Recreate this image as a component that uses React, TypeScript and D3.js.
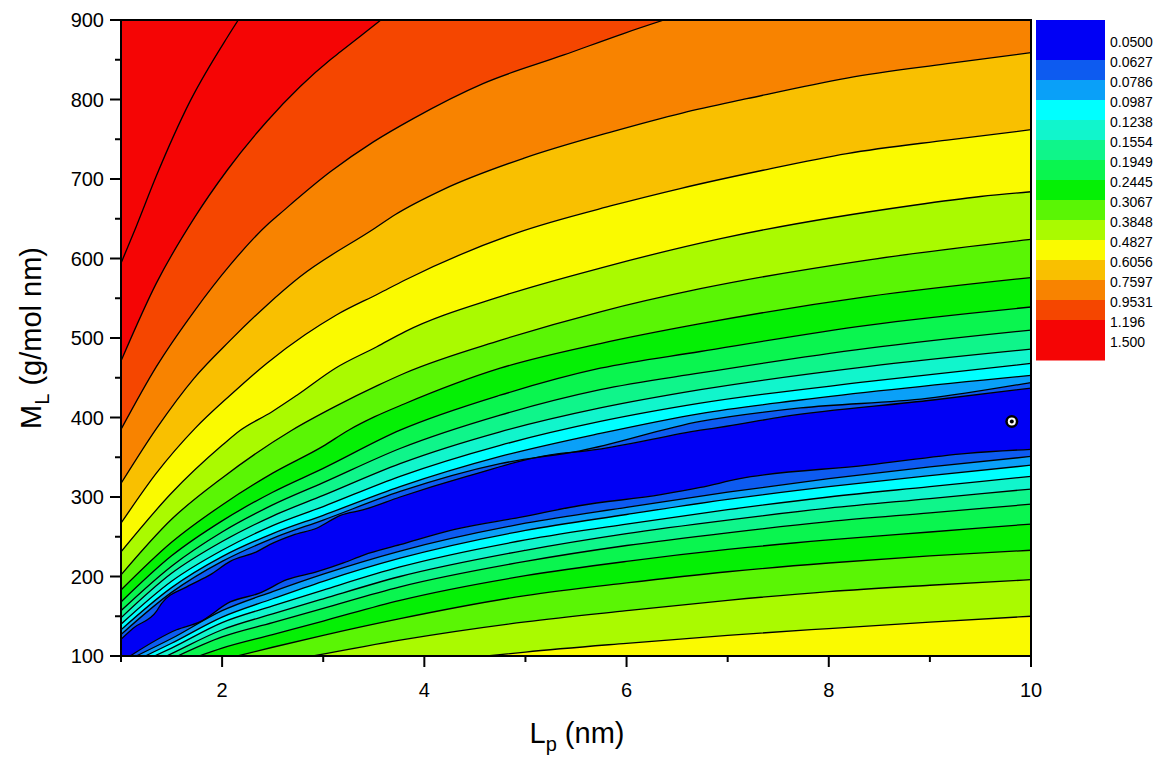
import React from 'react';
import * as d3 from 'd3';

// ---------- data ----------
const LEVELS = ['0.0500', '0.0627', '0.0786', '0.0987', '0.1238', '0.1554', '0.1949', '0.2445',
  '0.3067', '0.3848', '0.4827', '0.6056', '0.7597', '0.9531', '1.196', '1.500'];
// band j lies between LEVELS[j-1] and LEVELS[j]; band 0 below the first level, band 16 above the last
const BAND_COLORS = ['#0000F5', '#0000F5', '#0D5BF0', '#0AA0F8', '#00FFFF', '#11F5CC', '#0FF58A',
  '#0AF54F', '#05F005', '#5AF505', '#AAFA00', '#FAFA00', '#F9C000', '#F88300', '#F54600', '#F50505', '#F50505'];

const X_TICKS = [1, 2, 3, 4, 5, 6, 7, 8, 9, 10];
const X_LABELS = [2, 4, 6, 8, 10];
const Y_TICKS = [100, 150, 200, 250, 300, 350, 400, 450, 500, 550, 600, 650, 700, 750, 800, 850, 900];
const Y_LABELS = [100, 200, 300, 400, 500, 600, 700, 800, 900];

// contour lines [Lp, ML] above the valley (value falls going down)
const C_1500: [number, number][] = [[1, 594], [1.15, 640], [1.35, 704], [1.68, 797], [2.05, 878], [2.16, 900]];
const C_1196: [number, number][] = [[1, 471], [1.35, 569], [1.73, 652], [2.05, 711], [2.44, 772], [2.77, 816], [3.07, 850], [3.17, 860], [3.57, 900]];
const C_09531: [number, number][] = [[1, 385], [1.35, 464], [1.72, 533], [2.08, 592], [2.46, 644], [2.56, 655], [3.07, 709], [3.5, 747], [3.89, 776], [4.58, 820], [5.38, 856], [5.97, 883], [6.37, 900]];
const C_07597: [number, number][] = [[1, 317], [1.35, 386], [1.72, 449], [2.08, 497], [2.44, 541], [2.77, 577], [3.51, 638], [3.71, 655], [4.19, 687], [4.98, 726], [5.87, 760], [6.55, 783], [7.19, 801], [8.18, 827], [9.17, 845], [10, 859]];
const C_06056: [number, number][] = [[1, 267], [1.35, 330], [1.73, 386], [2.08, 428], [2.44, 468], [2.82, 504], [3.13, 529], [3.55, 556], [3.81, 573], [4.91, 632], [5.87, 667], [6.53, 688], [7.35, 711], [8.18, 732], [9.17, 749], [10, 762]];
const C_04827: [number, number][] = [[1, 231], [1.5, 305], [2, 365], [2.18, 384], [2.49, 407], [2.74, 428], [3.12, 462], [3.53, 489], [3.81, 508], [4.75, 552], [5.74, 588], [6.93, 625], [8.84, 667], [9.5, 678], [10, 684]];
const C_03848: [number, number][] = [[1, 202], [1.5, 272], [2, 324], [2.69, 384], [3.12, 414], [3.55, 441], [3.81, 456], [4.75, 497], [5.74, 533], [6.73, 562], [8.38, 598], [10, 624]];
const C_03067: [number, number][] = [[1, 183], [1.5, 243], [2, 290], [2.5, 330], [3, 364], [3.25, 384], [3.51, 401], [3.8, 417], [4.75, 462], [5.74, 493], [6.73, 518], [8.38, 552], [10, 576]];
const C_02445: [number, number][] = [[1, 168], [1.5, 226], [2, 270], [2.5, 306], [3, 336], [3.76, 384], [4.75, 428], [5.74, 462], [6.73, 483], [8.38, 516], [10, 539]];
const C_01949: [number, number][] = [[1, 157], [1.5, 213], [2, 256], [2.5, 290], [3, 318], [3.76, 361], [4.75, 403], [5.74, 435], [6.73, 456], [8.38, 487], [10, 510]];
const C_01554: [number, number][] = [[1, 148], [1.5, 204], [2, 244], [2.5, 276], [3, 302], [3.76, 342], [4.75, 382], [5.74, 412], [6.73, 435], [8.38, 464], [10, 486]];
const C_01238: [number, number][] = [[1, 140], [1.5, 194], [2, 233], [2.5, 264], [3, 288], [3.76, 326], [4.75, 365], [5.74, 395], [6.73, 418], [8.38, 445], [10, 468]];
const C_00987: [number, number][] = [[1, 133], [1.5, 186], [2, 225], [2.5, 254], [3, 277], [3.76, 313], [4.75, 351], [5.74, 380], [6.73, 405], [7.72, 422], [10, 453]];
const C_00786: [number, number][] = [[1, 127], [1.5, 180], [2, 219], [2.5, 248], [3, 271], [3.76, 307], [4.75, 342], [5.54, 358], [6.73, 395], [7.72, 412], [8.97, 424], [10, 444]];
const C_00627: [number, number][] = [[1, 121], [1.12, 135], [1.35, 156], [1.4, 166], [1.65, 187], [1.88, 202], [2.08, 219], [2.34, 231], [2.47, 240], [2.7, 252], [2.94, 261], [3.17, 277], [3.4, 284], [3.76, 300], [4.42, 326], [5.35, 355], [5.54, 357], [6.73, 384], [6.99, 389], [7.55, 401], [9.03, 422], [10, 437]];

// contour lines below the valley (value rises going down)
const D_00627: [number, number][] = [[1.09, 100], [1.55, 133], [1.78, 143], [2.08, 168], [2.37, 179], [2.64, 196], [2.94, 206], [3.2, 217], [3.4, 227], [3.76, 240], [4.29, 259], [4.97, 275], [5.53, 289], [6.34, 303], [6.73, 312], [7.12, 323], [8.38, 340], [9.37, 355], [10, 360]];
const D_00786: [number, number][] = [[1.15, 100], [1.5, 122], [2, 157], [2.5, 181], [3, 203], [3.76, 232], [5, 267], [6, 287], [7, 306], [8, 323], [9, 338], [10, 351]];
const D_00987: [number, number][] = [[1.24, 100], [1.5, 116], [2, 149], [2.5, 172], [3, 194], [3.76, 223], [5, 258], [6, 278], [7, 297], [8, 313], [9, 327], [10, 340]];
const D_01238: [number, number][] = [[1.33, 100], [1.5, 110], [2, 142], [2.5, 163], [3, 183], [3.76, 212], [5, 246], [6, 266], [7, 284], [8, 300], [9, 313], [10, 326]];
const D_01554: [number, number][] = [[1.45, 100], [1.5, 103], [2, 133], [2.5, 153], [3, 172], [3.76, 200], [5, 233], [6, 254], [7, 271], [8, 286], [9, 298], [10, 310]];
const D_01949: [number, number][] = [[1.56, 100], [2, 124], [2.5, 142], [3, 160], [3.76, 187], [5, 219], [6, 239], [7, 255], [8, 269], [9, 280], [10, 291]];
const D_02445: [number, number][] = [[1.77, 100], [2, 110], [2.5, 127], [3, 144], [3.76, 170], [5, 201], [6, 219], [7, 234], [8, 246], [9, 256], [10, 266]];
const D_03067: [number, number][] = [[2.15, 100], [2.5, 111], [3, 126], [3.76, 147], [5, 176], [6, 192], [7, 206], [8, 217], [9, 226], [10, 233]];
const D_03848: [number, number][] = [[2.9, 100], [3.76, 120], [5, 143], [6, 157], [7, 170], [8, 181], [9, 189], [10, 196]];
const D_04827: [number, number][] = [[4.62, 100], [5, 105], [6, 116], [7, 126], [8, 134.5], [9, 142.5], [10, 150]];

const MIN_POINT: [number, number] = [9.81, 395];

// level index + side: 'upper' lines have the lower band below them, 'lower' lines the higher band
const CONTOURS: { level: number; side: 'upper' | 'lower'; pts: [number, number][] }[] = [
  { level: 15, side: 'upper', pts: C_1500 },
  { level: 14, side: 'upper', pts: C_1196 },
  { level: 13, side: 'upper', pts: C_09531 },
  { level: 12, side: 'upper', pts: C_07597 },
  { level: 11, side: 'upper', pts: C_06056 },
  { level: 10, side: 'upper', pts: C_04827 },
  { level: 9, side: 'upper', pts: C_03848 },
  { level: 8, side: 'upper', pts: C_03067 },
  { level: 7, side: 'upper', pts: C_02445 },
  { level: 6, side: 'upper', pts: C_01949 },
  { level: 5, side: 'upper', pts: C_01554 },
  { level: 4, side: 'upper', pts: C_01238 },
  { level: 3, side: 'upper', pts: C_00987 },
  { level: 2, side: 'upper', pts: C_00786 },
  { level: 1, side: 'upper', pts: C_00627 },
  { level: 1, side: 'lower', pts: D_00627 },
  { level: 2, side: 'lower', pts: D_00786 },
  { level: 3, side: 'lower', pts: D_00987 },
  { level: 4, side: 'lower', pts: D_01238 },
  { level: 5, side: 'lower', pts: D_01554 },
  { level: 6, side: 'lower', pts: D_01949 },
  { level: 7, side: 'lower', pts: D_02445 },
  { level: 8, side: 'lower', pts: D_03067 },
  { level: 9, side: 'lower', pts: D_03848 },
  { level: 10, side: 'lower', pts: D_04827 },
];

// ---------- layout ----------
const W = 1163, H = 763;
const PL = 121, PR = 1031, PT = 20, PB = 656;
const FONT = '"Liberation Sans", Arial, Helvetica, sans-serif';

export default function App() {
  const x = d3.scaleLinear().domain([1, 10]).range([PL, PR]);
  const y = d3.scaleLinear().domain([100, 900]).range([PB, PT]);
  const line = d3.line<[number, number]>().x(d => x(d[0])).y(d => y(d[1])).curve(d3.curveMonotoneX);

  const YT = -2000, YB = 3000, XL = x(0), XR = x(11);
  const regionBelow = (pts: [number, number][]) => {
    const p = line(pts) as string;
    const f = pts[0], l = pts[pts.length - 1];
    const head = f[0] <= 1 ? `M${XL},${YB}L${XL},${y(f[1])}L` : `M${x(f[0])},${YB}L`;
    const tail = l[0] >= 10 ? `L${XR},${y(l[1])}L${XR},${YB}Z` : `L${x(l[0])},${YT}L${XR},${YT}L${XR},${YB}Z`;
    return head + p.slice(1) + tail;
  };

  const cb = d3.scaleLinear().domain([0, 17]).range([20, 360]);

  return (
    <svg width={W} height={H} style={{ position: 'absolute', left: 0, top: 0, background: '#fff' }} fontFamily={FONT}>
      <defs>
        <clipPath id="plotClip">
          <rect x={PL} y={PT} width={PR - PL} height={PB - PT} />
        </clipPath>
      </defs>
      <g clipPath="url(#plotClip)">
        <rect x={PL} y={PT} width={PR - PL} height={PB - PT} fill={BAND_COLORS[16]} />
        {CONTOURS.map((c, i) => (
          <path key={'f' + i} d={regionBelow(c.pts)}
            fill={BAND_COLORS[c.side === 'upper' ? c.level : c.level + 1]} stroke="none" />
        ))}
        {CONTOURS.map((c, i) => (
          <path key={'l' + i} d={line(c.pts) as string} fill="none" stroke="#000" strokeWidth={1.3} strokeLinejoin="round" />
        ))}
      </g>
      {/* minimum marker */}
      <circle cx={x(MIN_POINT[0])} cy={y(MIN_POINT[1])} r={6.5} fill="#000" />
      <circle cx={x(MIN_POINT[0])} cy={y(MIN_POINT[1])} r={4} fill="#fff" />
      <circle cx={x(MIN_POINT[0])} cy={y(MIN_POINT[1])} r={2} fill="#000" />

      {/* frame */}
      <rect x={PL} y={PT} width={PR - PL} height={PB - PT} fill="none" stroke="#000" strokeWidth={2} />

      {/* x ticks */}
      {X_TICKS.map(t => (
        <line key={'xt' + t} x1={x(t)} x2={x(t)} y1={PB} y2={PB + (t % 2 === 0 ? 11 : 6)} stroke="#000" strokeWidth={2} />
      ))}
      {X_LABELS.map(t => (
        <text key={'xl' + t} x={x(t)} y={697} fontSize={20} textAnchor="middle" fill="#000">{t}</text>
      ))}
      {/* y ticks */}
      {Y_TICKS.map(t => (
        <line key={'yt' + t} x1={PL} x2={PL - (t % 100 === 0 ? 11 : 6)} y1={y(t)} y2={y(t)} stroke="#000" strokeWidth={2} />
      ))}
      {Y_LABELS.map(t => (
        <text key={'yl' + t} x={104} y={y(t) + 7} fontSize={20} textAnchor="end" fill="#000">{t}</text>
      ))}

      {/* axis titles */}
      <text x={577} y={743} fontSize={29} textAnchor="middle" fill="#000">
        L<tspan fontSize={20} dy={8}>p</tspan><tspan dy={-8}> (nm)</tspan>
      </text>
      <text transform={`translate(41,338) rotate(-90)`} fontSize={29} textAnchor="middle" fill="#000">
        M<tspan fontSize={20} dy={8}>L</tspan><tspan dy={-8}> (g/mol nm)</tspan>
      </text>

      {/* colour scale */}
      {BAND_COLORS.map((c, j) => (
        <rect key={'cb' + j} x={1036} y={cb(j)} width={69} height={cb(j + 1) - cb(j) + 0.5} fill={c} />
      ))}
      {LEVELS.map((lv, i) => (
        <text key={'lv' + i} x={1110} y={cb(i + 1) + 7} fontSize={14} fill="#000">{lv}</text>
      ))}
    </svg>
  );
}
